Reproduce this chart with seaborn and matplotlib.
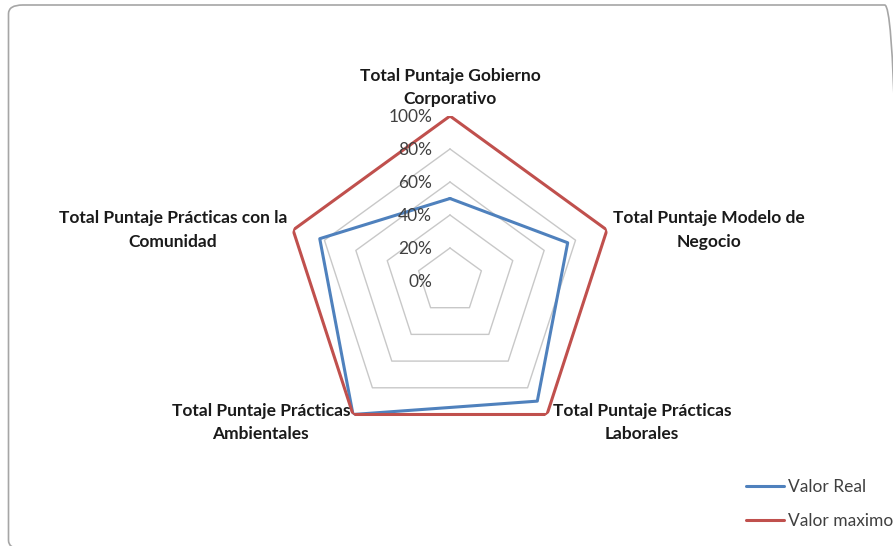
import numpy as np
import pandas as pd
import matplotlib
matplotlib.use("Agg")
import matplotlib.pyplot as plt
from matplotlib.patches import FancyBboxPatch
import seaborn as sns

categories = [
    "Total Puntaje Gobierno\nCorporativo",
    "Total Puntaje Modelo de\nNegocio",
    "Total Puntaje Prácticas\nLaborales",
    "Total Puntaje Prácticas\nAmbientales",
    "Total Puntaje Prácticas con la\nComunidad",
]
valor_real = [0.50, 0.75, 0.90, 1.00, 0.83]
valor_maximo = [1.00, 1.00, 1.00, 1.00, 1.00]
series_names = ["Valor Real", "Valor maximo"]
r_ticks = [0.0, 0.2, 0.4, 0.6, 0.8, 1.0]
r_tick_labels = ["0%", "20%", "40%", "60%", "80%", "100%"]

BLUE = "#4F81BD"
RED = "#C0504D"
GRID = "#C8C8C8"
FONT = "Lato"

sns.set_theme(style="white")
plt.rcParams["font.family"] = [FONT, "DejaVu Sans"]

W, H = 893, 546
fig = plt.figure(figsize=(W / 100, H / 100), dpi=100)

# rounded chart border (Excel-like)
border = FancyBboxPatch((8.5 / W, 1 - 549 / H), (899 - 8.5) / W, (549 - 5) / H,
                        boxstyle="round,pad=0,rounding_size=0.016",
                        transform=fig.transFigure, fill=False,
                        edgecolor="#A6A6A6", linewidth=1.2, zorder=0)
fig.patches.append(border)

cx, cy, R = 450, 281, 165
ax = fig.add_axes([(cx - R) / W, (H - cy - R) / H, 2 * R / W, 2 * R / H], projection="polar")
ax.set_theta_offset(np.pi / 2)
ax.set_theta_direction(-1)
ax.set_ylim(0, 1)
ax.grid(False)
ax.set_xticks([])
ax.set_yticks([])
ax.spines["polar"].set_visible(False)
ax.set_facecolor("none")

n = len(categories)
theta = np.linspace(0, 2 * np.pi, n, endpoint=False)
theta_closed = np.append(theta, theta[0])

# polygon gridlines
for rv in r_ticks[1:]:
    ax.plot(theta_closed, [rv] * (n + 1), color=GRID, linewidth=1.0, zorder=1)

rows = []
for name, vals in zip(series_names, [valor_real, valor_maximo]):
    vc = list(vals) + [vals[0]]
    for t, v in zip(theta_closed, vc):
        rows.append({"theta": t, "valor": v, "serie": name})
df = pd.DataFrame(rows)

sns.lineplot(data=df, x="theta", y="valor", hue="serie", sort=False,
             palette={"Valor Real": BLUE, "Valor maximo": RED},
             linewidth=2.2, ax=ax, estimator=None, zorder=3)
ax.set_xlabel("")
ax.set_ylabel("")
ax.set_ylim(0, 1)

# radial tick labels
for rv, lab in zip(r_ticks, r_tick_labels):
    ax.annotate(lab, xy=(0, rv), xytext=(-18, -1), textcoords="offset pixels",
                ha="right", va="center", fontsize=12.5, color="#404040")

# category labels
offsets = [((0, 9), "center", "bottom"),
           ((6, 0), "left", "center"),
           ((6, -8), "left", "center"),
           ((-3, -8), "right", "center"),
           ((-6, 0), "right", "center")]
for t, lab, (off, ha, va) in zip(theta, categories, offsets):
    ax.annotate(lab, xy=(t, 1.0), xytext=off, textcoords="offset pixels",
                ha=ha, va=va, multialignment="center", fontsize=12.5,
                fontweight="bold", color="#1A1A1A", linespacing=1.55)

handles, labels = ax.get_legend_handles_labels()
ax.legend(handles, labels, loc="center left",
          bbox_to_anchor=(746 / W, 1 - 504 / H), bbox_transform=fig.transFigure,
          frameon=False, fontsize=12.5, handlelength=2.2, handletextpad=0.2,
          labelspacing=1.0, borderaxespad=0, borderpad=0)
for txt in ax.get_legend().get_texts():
    txt.set_color("#404040")

fig.savefig("out.png", dpi=100)
